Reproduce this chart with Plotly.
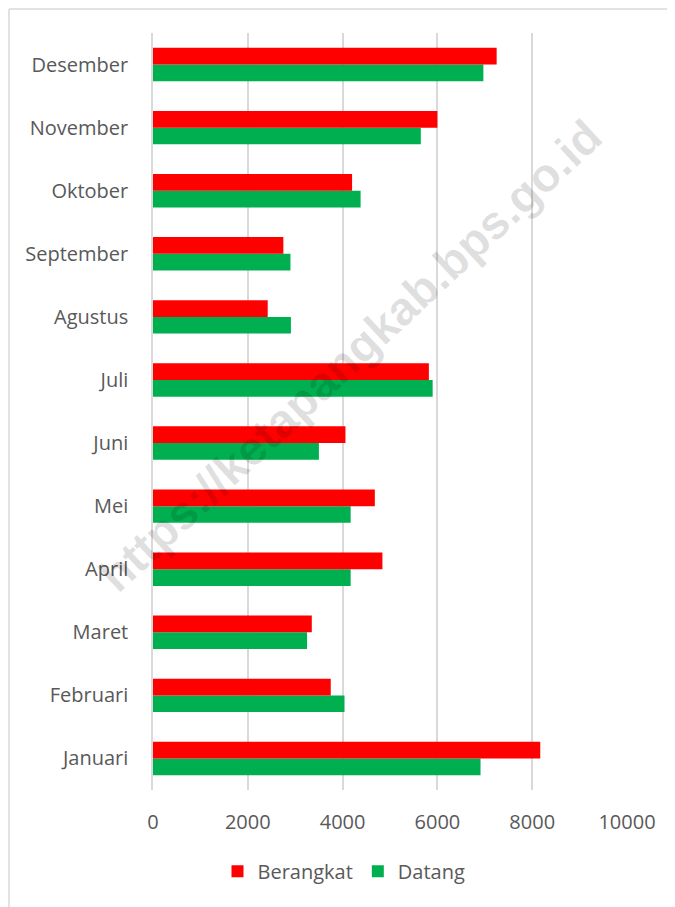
import plotly.graph_objects as go

months = ["Januari", "Februari", "Maret", "April", "Mei", "Juni", "Juli",
          "Agustus", "September", "Oktober", "November", "Desember"]
berangkat = [8170, 3750, 3350, 4840, 4680, 4060, 5820, 2420, 2750, 4200, 6000, 7250]
datang = [6910, 4040, 3250, 4170, 4170, 3500, 5900, 2910, 2900, 4380, 5650, 6970]
x_ticks = [0, 2000, 4000, 6000, 8000, 10000]
x_ticktext = ["0", "2000", "4000", "6000", "8000", "10000"]

FONT = "Open Sans"
GREY = "#595959"
OFF = 8  # page body margin
L, R, T, B = 153 - OFF, 48, 33 - OFF, 117
W, H = 675 - OFF, 907 - OFF
PW, PH = W - L - R, H - T - B
PL, PT = 153, 33  # plot origin on page

fig = go.Figure()
fig.add_trace(go.Bar(y=months, x=datang, orientation="h", name="Datang",
                     marker=dict(color="#00B050", line=dict(width=0)), legendrank=2))
fig.add_trace(go.Bar(y=months, x=berangkat, orientation="h", name="Berangkat",
                     marker=dict(color="#FF0000", line=dict(width=0)), legendrank=1))

fig.update_layout(
    width=W, height=H,
    margin=dict(l=L, r=R, t=T, b=B),
    paper_bgcolor="white", plot_bgcolor="white",
    barmode="group", bargap=0.47, bargroupgap=0,
    font=dict(family=FONT, size=20, color=GREY),
    xaxis=dict(range=[0, 10000], tickvals=x_ticks, ticktext=x_ticktext,
               showgrid=True, gridcolor="#D9D9D9", gridwidth=1.5, zeroline=False,
               showline=False, ticks="", tickfont=dict(size=20, color=GREY),
               ticklabelstandoff=18, automargin=False, fixedrange=True),
    yaxis=dict(showline=True, linecolor="#D9D9D9", linewidth=1.5,
               showgrid=False, ticks="", ticklabelstandoff=19,
               tickfont=dict(size=20, color=GREY), automargin=False,
               fixedrange=True),
    legend=dict(orientation="h", x=(350 - PL - 6) / PW, xanchor="center",
                y=-0.079 - 2 / PH, yanchor="top", font=dict(size=20, color=GREY),
                itemwidth=30, traceorder="normal"),
    showlegend=True,
)

fig.add_annotation(
    text="https://ketapangkab.bps.go.id", xref="paper", yref="paper",
    x=(350 - PL) / PW, y=1 - (355 - PT) / PH, showarrow=False, textangle=-43,
    font=dict(family="Liberation Sans", size=47, color="rgba(0,0,0,0.12)",
              weight="bold"),
)

# outer chart border: only top and left edges are visible in the reference
bx0, by1 = (1 - L) / PW, 1 + (T - 1) / PH
fig.add_shape(type="line", xref="paper", yref="paper",
              x0=bx0, x1=(W - L) / PW, y0=by1, y1=by1,
              line=dict(color="#D9D9D9", width=1.5), layer="below")
fig.add_shape(type="line", xref="paper", yref="paper",
              x0=bx0, x1=bx0, y0=-B / PH, y1=by1,
              line=dict(color="#D9D9D9", width=1.5), layer="below")

fig.write_html("out.html")
